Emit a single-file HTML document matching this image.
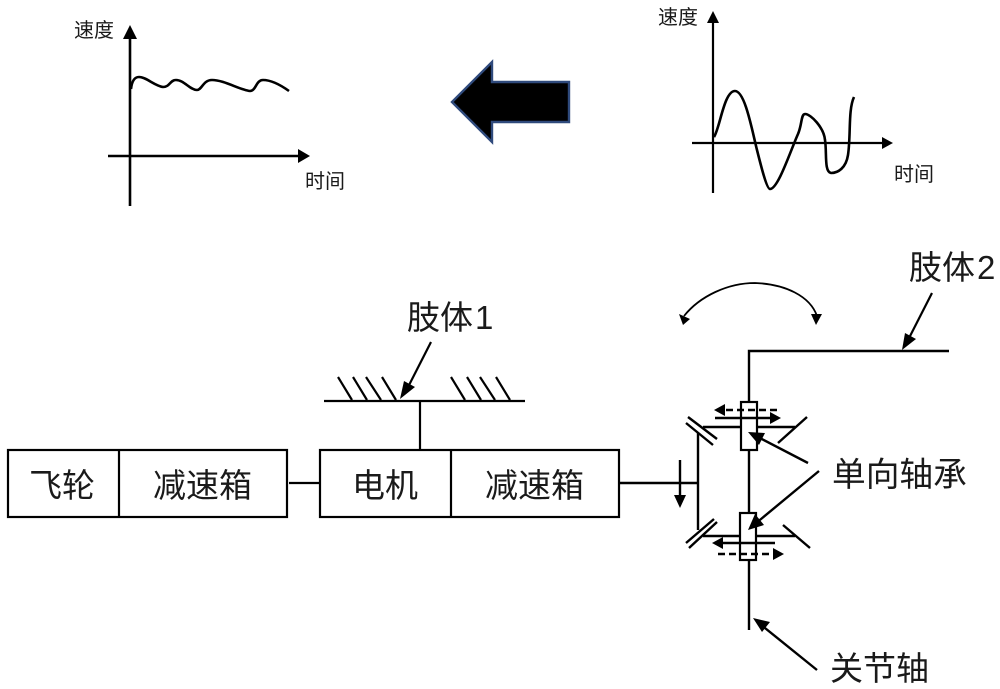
<!DOCTYPE html>
<html><head><meta charset="utf-8"><style>
html,body{margin:0;padding:0;background:#fff;width:1000px;height:689px;overflow:hidden}
svg{display:block}
text{font-family:"Liberation Sans","Noto Sans CJK SC",sans-serif;fill:#1a1a1a}
</style></head><body>
<svg width="1000" height="689" viewBox="0 0 1000 689" xmlns="http://www.w3.org/2000/svg">
<g stroke="#000" fill="none" stroke-width="2.2">
<!-- left chart -->
<path d="M130 206V32" stroke-width="2.6"/><path d="M123 39L130 25L137 39z" fill="#000" stroke="none"/>
<path d="M108 156H304" stroke-width="2.6"/><path d="M298 149L310 156L298 163z" fill="#000" stroke="none"/>
<path d="M131 89C132 80 135 77 139 77C146 77 155 86 163 87C170 87 170 80 176 80C184 80 190 90 197 90C202 90 203 80 212 80C224 80 240 90 250 91C256 91 256 80 263 80C272 80 282 86 289 91" stroke-width="2.6"/>
<!-- right chart -->
<path d="M713 193V18" stroke-width="2.2"/><path d="M707 23L713 11L719 23z" fill="#000" stroke="none"/>
<path d="M692 143H886" stroke-width="2.2"/><path d="M882 137L893 143L882 149z" fill="#000" stroke="none"/>
<path d="M714 137C720 128 724 91 735 91C745 91 752 130 757 150C762 170 767 189 770 189C778 189 790 152 798 134C802 125 801 114 805 114C811 114 824 128 825 140C827 152 824 172 831 173C838 173 846 168 848 155C851 135 848 110 854 97" stroke-width="2.6"/>
<!-- boxes -->
<rect x="8" y="450" width="279" height="67"/><path d="M119 450V517"/>
<rect x="320" y="450" width="299" height="67"/><path d="M451 450V517"/>
<path d="M289 483H320"/>
<!-- limb 1 -->
<path d="M324 401H525M420 401V450"/>
<path d="M338 377L352 400M353 377L367 400M366 377L381 400M382 377L396 400M451 377L465 400M467 377L481 400M480 377L495 400M496 377L510 400"/>
<path d="M431 342L405 393"/><path d="M400 399L404 381L415 387z" fill="#000" stroke="none"/>
<!-- limb 2 -->
<path d="M749 401V351H949" stroke-width="2.4"/>
<path d="M932 293L907 342"/><path d="M902 350L905 333L916 339z" fill="#000" stroke="none"/>
<path d="M684 316C700 296 728 283 755 283C785 284 810 296 817 316" stroke-width="1.8"/>
<path d="M679 314L690 319L683 325z" fill="#000" stroke="none"/>
<path d="M811 314L822 314L816 325z" fill="#000" stroke="none"/>
<!-- mechanism -->
<path d="M749 450V513M749 560V630" stroke-width="2.4"/>
<rect x="741" y="402" width="16" height="48" fill="#fff"/>
<rect x="740" y="513" width="16" height="47" fill="#fff"/>
<path d="M619 483H698M698 433V530" stroke-width="2.4"/>
<path d="M680 460V497" stroke-width="2.4"/><path d="M674 495L680 508L686 495z" fill="#000" stroke="none"/>
<path d="M688 417L717 439M686 423L713 445M689 548L717 522M686 543L714 519" stroke-width="2.4"/>
<path d="M703 427H741M757 427H795M807 417L778 443" stroke-width="2.4"/>
<path d="M703 536H740M756 536H795M783 525L810 548" stroke-width="2.4"/>
<!-- direction arrows -->
<path d="M777 410H724" stroke-dasharray="7 4" stroke-width="2.4"/><path d="M725 404L714 410L725 416z" fill="#000" stroke="none"/>
<path d="M715 418H772" stroke-width="2.4"/><path d="M770 412L781 418L770 424z" fill="#000" stroke="none"/>
<path d="M775 543H722" stroke-width="2.4"/><path d="M723 537L712 543L723 549z" fill="#000" stroke="none"/>
<path d="M718 554H775" stroke-dasharray="7 4" stroke-width="2.4"/><path d="M773 548L784 554L773 560z" fill="#000" stroke="none"/>
<!-- leaders -->
<path d="M808 463L756 436" stroke-width="2.4"/><path d="M748 432L765 433L759 445z" fill="#000" stroke="none"/>
<path d="M819 471L755 524" stroke-width="2.4"/><path d="M748 530L755 514L764 525z" fill="#000" stroke="none"/>
<path d="M817 670L760 624" stroke-width="2.4"/><path d="M753 618L770 622L762 632z" fill="#000" stroke="none"/>
</g>
<!-- big arrow -->
<path d="M569 82H492V62L452 102L492 142V122H569z" fill="#000" stroke="#2f4a7c" stroke-width="2.4"/>
<!-- labels -->
<text x="74" y="37" font-size="20">速度</text>
<text x="305" y="188" font-size="20">时间</text>
<text x="658" y="24" font-size="20">速度</text>
<text x="894" y="181" font-size="20">时间</text>
<text x="407" y="329" font-size="33">肢体<tspan dx="2">1</tspan></text>
<text x="909" y="279" font-size="33">肢体<tspan dx="2">2</tspan></text>
<text x="29" y="497" font-size="33">飞轮</text>
<text x="153" y="497" font-size="33">减速箱</text>
<text x="352" y="497" font-size="33">电机</text>
<text x="485" y="497" font-size="33">减速箱</text>
<text x="832" y="486" font-size="33.7">单向轴承</text>
<text x="830" y="680" font-size="33">关节轴</text>
</svg>
</body></html>
